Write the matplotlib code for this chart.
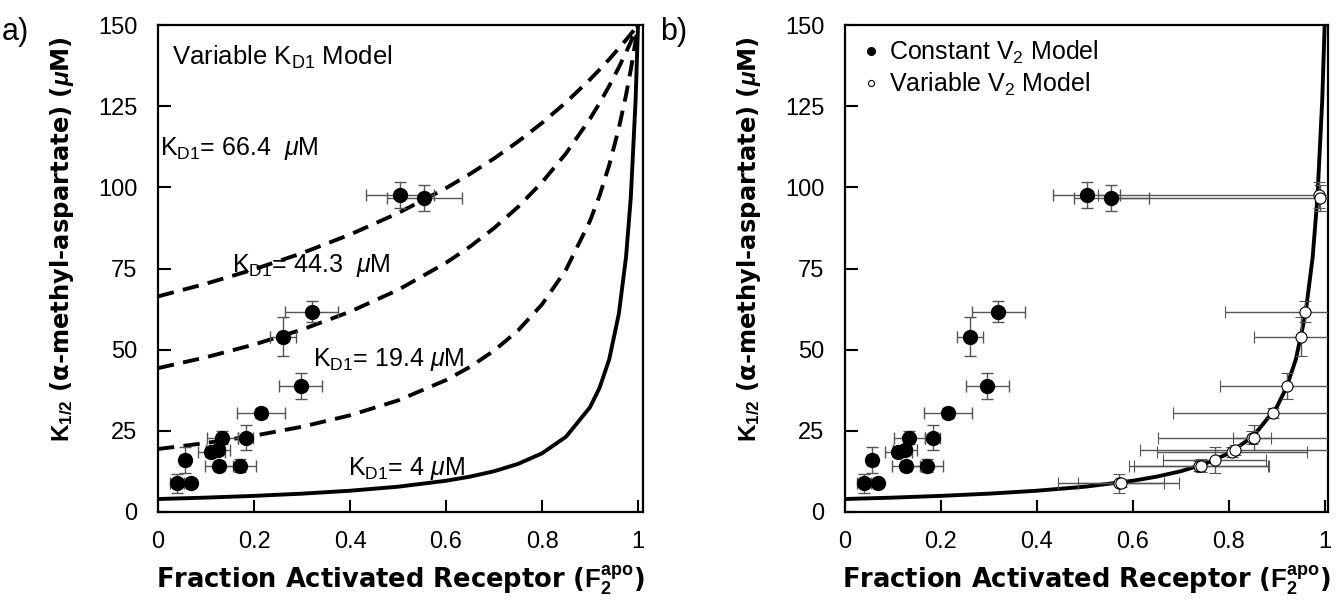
import numpy as np
import matplotlib
matplotlib.use('Agg')
import matplotlib.pyplot as plt

plt.rcParams['font.family'] = ['Liberation Sans', 'DejaVu Sans']
plt.rcParams['mathtext.fontset'] = 'custom'
plt.rcParams['mathtext.rm'] = 'Liberation Sans'
plt.rcParams['mathtext.it'] = 'Liberation Sans:italic'
plt.rcParams['mathtext.bf'] = 'Liberation Sans:bold'
plt.rcParams['mathtext.bfit'] = 'Liberation Sans:bold:italic'

# measured points (same K1/2 values for both models)
K_half = [8.8, 8.8, 16.0, 18.4, 19.1, 14.2, 22.9, 14.2, 22.9, 30.6, 54.0, 38.9, 61.7, 97.6, 96.6]
K_err = [3.0, 1.0, 4.0, 1.5, 1.5, 1.5, 2.0, 2.0, 3.8, 1.5, 6.0, 4.0, 3.2, 4.1, 4.0]

# constant V2 model
F_const = [0.039, 0.068, 0.056, 0.111, 0.125, 0.127, 0.134, 0.170, 0.1825, 0.215, 0.26, 0.297, 0.32, 0.504, 0.555]
F_const_err = [0.015, 0.01, 0.01, 0.028, 0.025, 0.03, 0.032, 0.035, 0.015, 0.05, 0.027, 0.045, 0.056, 0.07, 0.078]

# variable V2 model
F_var = [0.571, 0.575, 0.771, 0.807, 0.814, 0.738, 0.849, 0.742, 0.852, 0.893, 0.951, 0.922, 0.960, 0.988, 0.990]
F_var_err = [0.126, 0.09, 0.107, 0.156, 0.2, 0.145, 0.04, 0.14, 0.2, 0.21, 0.098, 0.14, 0.168, 0.46, 0.43]

# model curves
F_curve = [0, 0.1, 0.2, 0.3, 0.4, 0.5, 0.6, 0.65, 0.7, 0.75, 0.8, 0.85, 0.9, 0.92, 0.94, 0.96, 0.975, 0.985, 0.995, 1.0]
K_kd4 = [4.0, 4.43, 4.97, 5.65, 6.55, 7.79, 9.62, 10.89, 12.55, 14.81, 18.07, 23.17, 32.26, 38.27, 47.02, 60.98, 78.43, 96.93, 126.9, 150]
K_kd19 = [19.4, 21.25, 23.49, 26.26, 29.77, 34.36, 40.62, 44.69, 49.68, 55.91, 63.93, 74.63, 89.65, 97.49, 106.84, 118.18, 128.39, 136.24, 145.12, 150]
K_kd44 = [44.3, 47.66, 51.57, 56.18, 61.69, 68.40, 76.75, 81.74, 87.42, 93.96, 101.54, 110.46, 121.1, 125.96, 131.22, 136.93, 141.56, 144.80, 148.23, 150]
K_kd66 = [66.4, 70.32, 74.73, 79.73, 85.45, 92.05, 99.76, 104.12, 108.87, 114.09, 119.83, 126.17, 133.23, 136.28, 139.45, 142.82, 145.41, 147.21, 149.07, 150]

fig = plt.figure(figsize=(13.37, 6.02), dpi=100)
ax1 = fig.add_axes([158/1337, 1-512/602, 485/1337, 487/602])
ax2 = fig.add_axes([845/1337, 1-512/602, 483/1337, 487/602])

ecol = '#555555'

def style(ax, xmax):
    ax.set_xlim(0, xmax)
    ax.set_ylim(0, 150)
    ax.set_xticks([0, 0.2, 0.4, 0.6, 0.8, 1])
    ax.set_xticklabels(['0', '0.2', '0.4', '0.6', '0.8', '1'])
    ax.set_yticks([0, 25, 50, 75, 100, 125, 150])
    ax.tick_params(direction='in', length=9, width=1.5, labelsize=17)
    ax.tick_params(axis='x', pad=14)
    ax.tick_params(axis='y', pad=15)
    for s in ax.spines.values():
        s.set_linewidth(1.6)
    # axis titles in a wider face, the original lettering is broad
    ax.set_xlabel(r'Fraction Activated Receptor ($\mathbf{F_2^{apo}}$)', fontsize=18.5, fontweight='bold',
                  family='DejaVu Sans')
    ax.set_ylabel(r'$\mathbf{K_{1/2}}$ (α-methyl-aspartate) ($\mathbfit{\mu}$M)', fontsize=17.5, fontweight='bold',
                  family='DejaVu Sans')
    ax.xaxis.set_label_coords(0.5, -0.105, transform=ax.transAxes)
    ax.yaxis.set_label_coords(-0.17, 0.56, transform=ax.transAxes)

# a) variable KD1 model
ax1.plot(F_curve, K_kd4, color='black', lw=2.8)
for kk in [K_kd19, K_kd44, K_kd66]:
    ax1.plot(F_curve, kk, color='black', lw=2.8, dashes=(4.2, 2.4))
ax1.errorbar(F_const, K_half, xerr=F_const_err, yerr=K_err, fmt='o', ms=10, mfc='black', mec='black',
             ecolor=ecol, elinewidth=1, capsize=4, capthick=1, zorder=3)
ax1.text(0.03, 140, r'Variable K$_{\rm D1}$ Model', fontsize=18.5, va='center')
ax1.text(0.005, 112, r'K$_{\rm D1}$= 66.4  $\mu$M', fontsize=18, va='center')
ax1.text(0.155, 76, r'K$_{\rm D1}$= 44.3  $\mu$M', fontsize=18, va='center')
ax1.text(0.322, 47, r'K$_{\rm D1}$= 19.4 $\mu$M', fontsize=18, va='center')
ax1.text(0.395, 13.5, r'K$_{\rm D1}$= 4 $\mu$M', fontsize=18, va='center')
style(ax1, 1.0104)

# b) constant vs variable V2
ax2.plot(F_curve, K_kd4, color='black', lw=2.8)
ax2.errorbar(F_const, K_half, xerr=F_const_err, yerr=K_err, fmt='o', ms=10, mfc='black', mec='black',
             ecolor=ecol, elinewidth=1, capsize=4, capthick=1, zorder=3, label=r'Constant V$_2$ Model')
ax2.errorbar(F_var, K_half, xerr=F_var_err, yerr=K_err, fmt='o', ms=8, mfc='white', mec='black', mew=0.8,
             ecolor=ecol, elinewidth=1, capsize=4, capthick=1, zorder=3, label=r'Variable V$_2$ Model')
h, l = ax2.get_legend_handles_labels()
leg = ax2.legend([hh[0] for hh in h], l, loc='upper left', frameon=False, fontsize=18, markerscale=0.55,
                 handletextpad=0.2, handlelength=1.0, borderaxespad=0.15, labelspacing=0.2)
style(ax2, 1.007)

fig.text(2/1337, 1-32/602, 'a)', fontsize=22, va='center')
fig.text(660/1337, 1-32/602, 'b)', fontsize=22, va='center')

fig.savefig('out.png', dpi=100)
